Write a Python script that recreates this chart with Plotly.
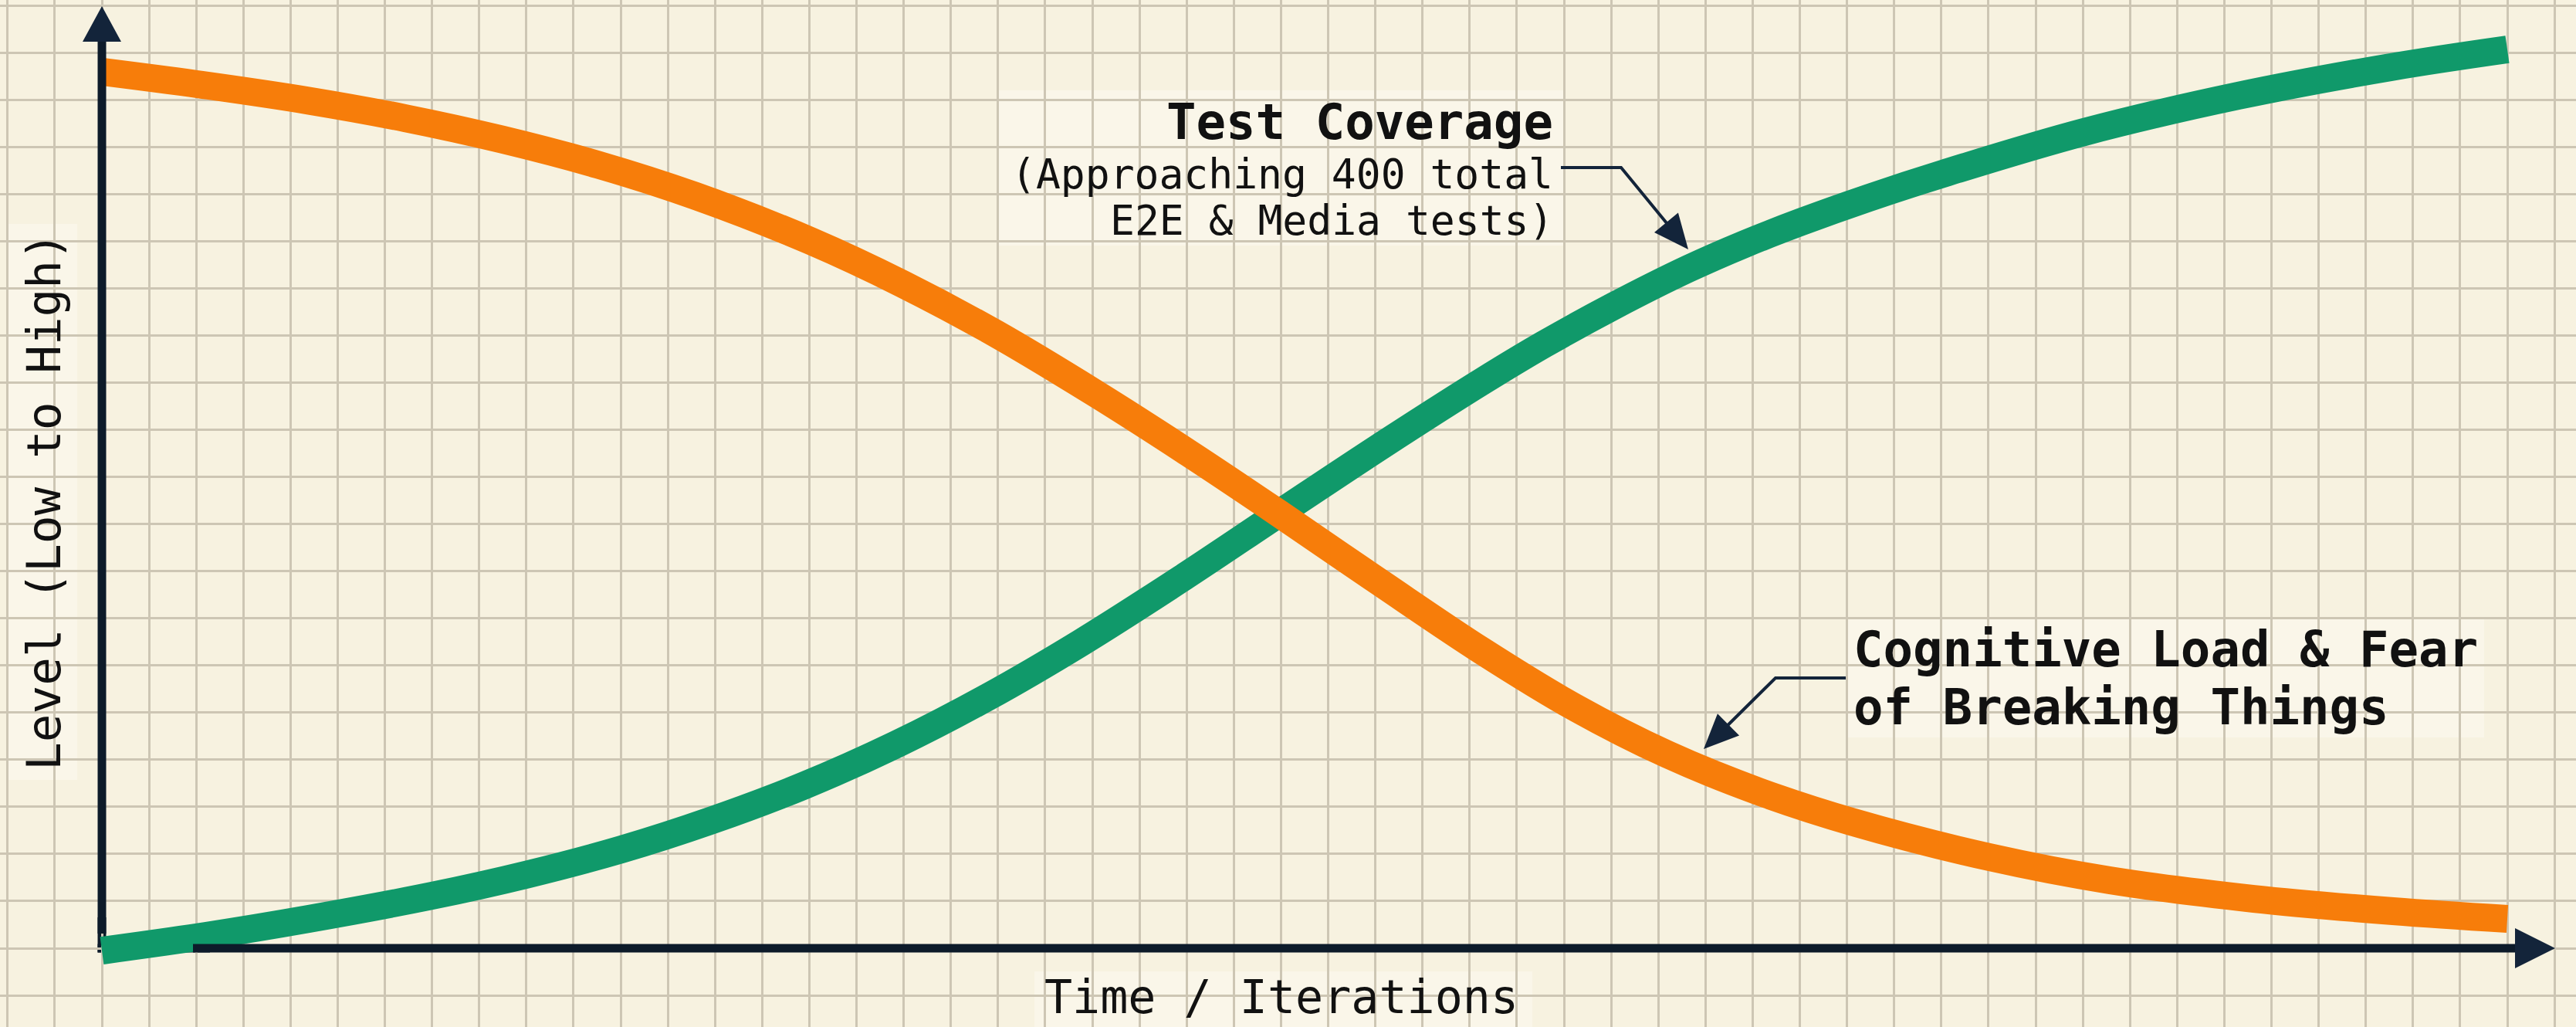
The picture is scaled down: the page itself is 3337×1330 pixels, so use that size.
import plotly.graph_objects as go

W, H = 3337, 1330

# ---- data (time 0-100, level 0-100) ----
time_coverage = [0.0, 4.43, 8.6, 13.74, 17.68, 21.6, 25.29, 29.14, 32.99, 36.84, 40.69, 44.87, 48.94, 53.21,
                 57.38, 59.95, 62.84, 65.95, 68.29, 70.64, 73.43, 76.64, 82.41, 88.83, 95.25, 100.0]
test_coverage = [-0.25, 1.35, 3.11, 5.57, 7.82, 10.48, 13.51, 17.2, 21.58, 26.66, 32.39, 39.19, 46.11, 53.32,
                 60.11, 64.05, 68.1, 72.07, 74.69, 77.03, 79.57, 82.23, 86.57, 90.42, 93.49, 95.33]

time_load = [0.0, 4.43, 8.6, 12.61, 16.62, 20.64, 24.65, 29.46, 33.31, 37.16, 41.33, 45.19, 48.94, 53.21,
             57.38, 61.23, 65.08, 68.93, 72.79, 78.47, 83.47, 89.47, 95.25, 100.0]
cognitive_load = [92.96, 91.48, 89.89, 88.04, 85.79, 83.09, 79.81, 75.02, 70.43, 65.19, 58.8, 52.5, 46.11, 38.66,
                  31.53, 25.55, 20.56, 16.58, 13.38, 9.66, 7.21, 5.24, 3.93, 3.11]

x_label = "Time / Iterations"
y_label = "Level (Low to High)"
coverage_title = "Test Coverage"
coverage_note = ["(Approaching 400 total", "E2E & Media tests)"]
load_label = ["Cognitive Load & Fear", "of Breaking Things"]

# ---- layout geometry (pixels) ----
X0_PX, X1_PX = 132, 3248       # data x 0 and 100
Y0_PX = 1228                   # data y 0
PX_PER_X = (X1_PX - X0_PX) / 100.0
PX_PER_Y = 61.05 / 5.0         # one grid cell = 5 level units

x_range = [(0 - X0_PX) / PX_PER_X, (W - X0_PX) / PX_PER_X]
y_range = [(Y0_PX - H) / PX_PER_Y, Y0_PX / PX_PER_Y]

BG = "#F7F2E0"
BOX = "#FAF6E9"
GRID = "#CDC6B4"
AXIS = "#0D1B2A"
ARROW = "#13243A"
ORANGE = "#F77D0A"
GREEN = "#10996A"
TXT = "#111111"
FONT = "DejaVu Sans Mono"
AXIS_W = 11


def px(x):
    return x / W


def py(y):
    return 1 - y / H


def tri(p1, p2, p3):
    return "M {} {} L {} {} L {} {} Z".format(px(p1[0]), py(p1[1]), px(p2[0]), py(p2[1]), px(p3[0]), py(p3[1]))


def rect(x0, y0, x1, y1, color, layer):
    return dict(type="rect", xref="paper", yref="paper", x0=px(x0), x1=px(x1), y0=py(y1), y1=py(y0),
                fillcolor=color, line=dict(width=0), layer=layer)


def arrow_head(tail, tip, length=45, half=20):
    dx, dy = tip[0] - tail[0], tip[1] - tail[1]
    n = (dx * dx + dy * dy) ** 0.5
    ux, uy = dx / n, dy / n
    bx, by = tip[0] - ux * length, tip[1] - uy * length
    return tri(tip, (bx - uy * half, by + ux * half), (bx + uy * half, by - ux * half))


fig = go.Figure()
fig.add_trace(go.Scatter(x=time_coverage, y=test_coverage, mode="lines",
                         line=dict(color=GREEN, width=36, shape="spline", smoothing=1.0),
                         hoverinfo="skip", showlegend=False))
fig.add_trace(go.Scatter(x=time_load, y=cognitive_load, mode="lines",
                         line=dict(color=ORANGE, width=36, shape="spline", smoothing=1.0),
                         hoverinfo="skip", showlegend=False))

shapes = []
# label background boxes
for (x0, y0, x1, y1) in [(1291, 117, 2025, 318), (2394, 802, 3218, 955), (1340, 1258, 1985, 1330), (10, 290, 100, 1010)]:
    shapes.append(rect(x0, y0, x1, y1, BOX, "between"))
# axes (solid bars with arrowheads); the corner part sits under the green curve
hw = AXIS_W / 2.0
shapes.append(rect(X0_PX - hw, Y0_PX - 40, X0_PX + hw, Y0_PX + hw, AXIS, "between"))
shapes.append(rect(X0_PX - hw, Y0_PX - hw, X0_PX + 140, Y0_PX + hw, AXIS, "between"))
shapes.append(rect(X0_PX - hw, 50, X0_PX + hw, Y0_PX - 19, AXIS, "above"))
shapes.append(rect(X0_PX + 118, Y0_PX - hw, 3262, Y0_PX + hw, AXIS, "above"))
shapes.append(dict(type="path", xref="paper", yref="paper", path=tri((X0_PX, 8), (X0_PX - 25, 54), (X0_PX + 25, 54)),
                   fillcolor=ARROW, line=dict(width=0), layer="above"))
shapes.append(dict(type="path", xref="paper", yref="paper", path=tri((3310, Y0_PX), (3258, Y0_PX - 26), (3258, Y0_PX + 26)),
                   fillcolor=ARROW, line=dict(width=0), layer="above"))
# callout connectors
tc_pts = [(2022, 217), (2100, 217), (2187, 323)]
cl_pts = [(2391, 878), (2300, 878), (2207, 970)]
for pts in (tc_pts, cl_pts):
    a, b, c = pts
    hx = c[0] - (c[0] - b[0]) * 0.25
    hy = c[1] - (c[1] - b[1]) * 0.25
    shapes.append(dict(type="path", xref="paper", yref="paper",
                       path="M {} {} L {} {} L {} {}".format(px(a[0]), py(a[1]), px(b[0]), py(b[1]), px(hx), py(hy)),
                       line=dict(color=ARROW, width=4), layer="above"))
    shapes.append(dict(type="path", xref="paper", yref="paper", path=arrow_head(b, c),
                       fillcolor=ARROW, line=dict(width=0), layer="above"))

ann = []


def add_text(text, x, y, size, xanchor, angle=0):
    ann.append(dict(text=text, x=px(x), y=py(y), xref="paper", yref="paper", xanchor=xanchor, yanchor="middle",
                    showarrow=False, textangle=angle, font=dict(family=FONT, size=size, color=TXT)))


add_text("<b>" + coverage_title + "</b>", 2014, 180 - 22, 64, "right")
add_text(coverage_note[0], 2014, 243 - 18, 53, "right")
add_text(coverage_note[1], 2014, 303 - 18, 53, "right")
add_text("<b>" + load_label[0] + "</b>", 2399, 863 - 22, 64, "left")
add_text("<b>" + load_label[1] + "</b>", 2399, 938 - 22, 64, "left")
add_text(x_label, 1660, 1291, 60, "center")
add_text(y_label, 56, 649, 61, "center", angle=-90)

axis_common = dict(showticklabels=False, ticks="", zeroline=False, showline=False, showgrid=True,
                   gridcolor=GRID, gridwidth=2.5, fixedrange=True)
fig.update_layout(
    width=W, height=H, autosize=False,
    margin=dict(l=0, r=0, t=0, b=0, pad=0),
    paper_bgcolor=BG, plot_bgcolor=BG,
    xaxis=dict(range=x_range, tick0=0, dtick=100 / 51, **axis_common),
    yaxis=dict(range=y_range, tick0=0, dtick=5, **axis_common),
    shapes=shapes, annotations=ann, showlegend=False,
)

fig.write_html("out.html", config={"displayModeBar": False},
               post_script="document.body.style.margin='0';document.body.style.overflow='hidden';")
